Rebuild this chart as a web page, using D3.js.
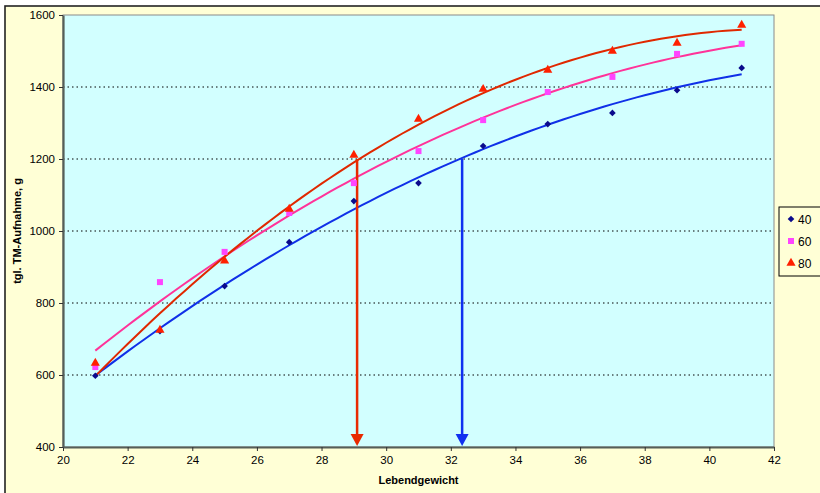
<!DOCTYPE html>
<html>
<meta charset="utf-8">
<style>
body { margin: 0; background: #fff; }
text { font-family: Arial, "Liberation Sans", sans-serif; }
</style>
<body>
</body>
<script src="https://cdn.jsdelivr.net/npm/d3@7"></script>
<script>

// Lebendgewicht (x) and daily dry matter intake per series
var weights = [21, 23, 25, 27, 29, 31, 33, 35, 37, 39, 41];
var series40 = [598, 722, 847, 969, 1083, 1133, 1236, 1297, 1328, 1391, 1453];
var series60 = [622, 858, 942, 1050, 1133, 1222, 1308, 1386, 1428, 1492, 1520];
var series80 = [633, 725, 917, 1061, 1211, 1311, 1394, 1447, 1500, 1522, 1572];
var seriesNames = ["40", "60", "80"];
var xTicks = [20, 22, 24, 26, 28, 30, 32, 34, 36, 38, 40, 42];
var yTicks = [400, 600, 800, 1000, 1200, 1400, 1600];
// arrows dropped from the 1200 g level to the x axis
var arrowX = [29.1, 32.35];
var arrowTop = [1200, 1200];

var width = 820, height = 493;
var plotLeft = 63, plotRight = 774, plotTop = 15, plotBottom = 447;

var svg = d3.select("body").append("svg")
    .attr("width", width)
    .attr("height", height);

// outer chart area
svg.append("rect")
  .attr("x", 5).attr("y", 6)
  .attr("width", width + 10).attr("height", height + 10)
  .attr("fill", "#FFFFD6")
  .attr("stroke", "#222").attr("stroke-width", 1.6);

var x = d3.scaleLinear().domain([20, 42]).range([plotLeft, plotRight]);
var y = d3.scaleLinear().domain([400, 1600]).range([plotBottom, plotTop]);

// plot area
svg.append("rect")
  .attr("x", plotLeft).attr("y", plotTop)
  .attr("width", plotRight - plotLeft).attr("height", plotBottom - plotTop)
  .attr("fill", "#D2FFFF")
  .attr("stroke", "#8a8a8a").attr("stroke-width", 1);

// grid lines
svg.append("g").selectAll("line")
  .data(yTicks.filter(function (d) { return d > 400 && d < 1600; }))
  .enter().append("line")
  .attr("x1", plotLeft).attr("x2", plotRight)
  .attr("y1", function (d) { return y(d); })
  .attr("y2", function (d) { return y(d); })
  .attr("stroke", "#000").attr("stroke-width", 1)
  .attr("stroke-dasharray", "1.5,3");

// axes
var xAxis = svg.append("g")
  .attr("transform", "translate(0," + plotBottom + ")")
  .call(d3.axisBottom(x).tickValues(xTicks).tickFormat(d3.format("d"))
    .tickSize(4).tickSizeOuter(0).tickPadding(5));
var yAxis = svg.append("g")
  .attr("transform", "translate(" + plotLeft + ",0)")
  .call(d3.axisLeft(y).tickValues(yTicks).tickFormat(d3.format("d"))
    .tickSize(4).tickSizeOuter(0).tickPadding(4));

[xAxis, yAxis].forEach(function (a) {
  a.select(".domain").attr("stroke", "#555f58").attr("stroke-width", 2.2);
  a.selectAll(".tick line").attr("stroke", "#333");
  a.selectAll(".tick text").attr("font-size", 11.5).attr("fill", "#000")
    .attr("font-family", "Arial, 'Liberation Sans', sans-serif");
});

svg.append("text")
  .attr("x", (plotLeft + plotRight) / 2).attr("y", 484)
  .attr("text-anchor", "middle")
  .attr("font-size", 11).attr("font-weight", "bold")
  .text("Lebendgewicht");

svg.append("text")
  .attr("transform", "translate(21," + ((plotTop + plotBottom) / 2) + ") rotate(-90)")
  .attr("text-anchor", "middle")
  .attr("font-size", 11).attr("font-weight", "bold")
  .text("tgl. TM-Aufnahme, g");

// quadratic least squares trendline (like Excel polynomial order 2)
function quadFit(xs, ys) {
  var s = [0, 0, 0, 0, 0], t = [0, 0, 0];
  xs.forEach(function (xv, i) {
    var p = 1;
    for (var k = 0; k < 5; k++) { s[k] += p; if (k < 3) t[k] += p * ys[i]; p *= xv; }
  });
  var m = [[s[0], s[1], s[2], t[0]], [s[1], s[2], s[3], t[1]], [s[2], s[3], s[4], t[2]]];
  for (var i = 0; i < 3; i++) {
    for (var j = i + 1; j < 3; j++) {
      var f = m[j][i] / m[i][i];
      for (var k = i; k < 4; k++) m[j][k] -= f * m[i][k];
    }
  }
  var c = [0, 0, 0];
  for (var i = 2; i >= 0; i--) {
    var v = m[i][3];
    for (var k = i + 1; k < 3; k++) v -= m[i][k] * c[k];
    c[i] = v / m[i][i];
  }
  return function (xv) { return c[0] + c[1] * xv + c[2] * xv * xv; };
}

// diamond = square turned by 45 degrees, like the Excel marker
var allSeries = [
  { name: seriesNames[0], values: series40, line: "#1030E8", marker: "#0A0A8C", shape: d3.symbolSquare, size: 22, rot: 45 },
  { name: seriesNames[1], values: series60, line: "#FF3399", marker: "#FF44FF", shape: d3.symbolSquare, size: 36, rot: 0 },
  { name: seriesNames[2], values: series80, line: "#E02800", marker: "#FF2000", shape: d3.symbolTriangle, size: 36, rot: 0 }
];

var line = d3.line()
  .x(function (d) { return x(d[0]); })
  .y(function (d) { return y(d[1]); });

// trendlines first
allSeries.forEach(function (s) {
  var f = quadFit(weights, s.values);
  var pts = d3.range(weights[0], weights[weights.length - 1] + 0.001, 0.25)
    .map(function (v) { return [v, f(v)]; });
  svg.append("path")
    .attr("d", line(pts))
    .attr("fill", "none")
    .attr("stroke", s.line).attr("stroke-width", 2);
});

// arrows
var arrowColors = ["#E82A00", "#1030F0"];
var arrows = svg.append("g");
arrowX.forEach(function (ax, i) {
  arrows.append("line")
    .attr("x1", x(ax)).attr("x2", x(ax))
    .attr("y1", y(arrowTop[i])).attr("y2", y(400) - 10)
    .attr("stroke", arrowColors[i]).attr("stroke-width", 2.5);
  arrows.append("path")
    .attr("d", "M" + (x(ax) - 6.5) + "," + (y(400) - 13) + " L" + (x(ax) + 6.5) + "," + (y(400) - 13) +
      " L" + x(ax) + "," + (y(400) - 1) + " Z")
    .attr("fill", arrowColors[i]);
});

// markers
allSeries.forEach(function (s) {
  svg.append("g").selectAll("path")
    .data(s.values)
    .enter().append("path")
    .attr("transform", function (d, i) {
      return "translate(" + x(weights[i]) + "," + y(d) + ") rotate(" + s.rot + ")";
    })
    .attr("d", d3.symbol().type(s.shape).size(s.size))
    .attr("fill", s.marker);
});

// legend
var legend = svg.append("g").attr("transform", "translate(779,207)");
legend.append("rect")
  .attr("width", 50).attr("height", 69)
  .attr("fill", "#FFFFD6").attr("stroke", "#000").attr("stroke-width", 1);
allSeries.forEach(function (s, i) {
  var g = legend.append("g").attr("transform", "translate(0," + (12 + i * 22) + ")");
  g.append("path")
    .attr("transform", "translate(12,0) rotate(" + s.rot + ")")
    .attr("d", d3.symbol().type(s.shape).size(s.size))
    .attr("fill", s.marker);
  g.append("text")
    .attr("x", 19).attr("y", 4.5)
    .attr("font-size", 12)
    .text(s.name);
});
</script>
</html>
